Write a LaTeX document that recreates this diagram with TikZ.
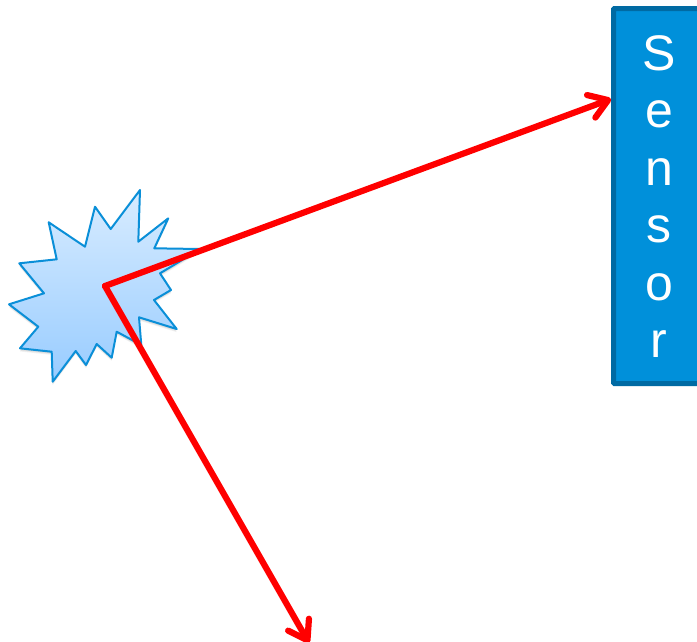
\documentclass[tikz,border=0pt]{standalone}
\usepackage{fontspec}
\setmainfont{Liberation Sans}
\usetikzlibrary{arrows.meta,shadings}
\definecolor{sensorfill}{HTML}{0090DA}
\definecolor{sensorline}{HTML}{006AA3}
\definecolor{burstline}{HTML}{0A8FD8}
\definecolor{bursttop}{HTML}{D8ECFF}
\definecolor{burstbot}{HTML}{98CCFF}
\tikzset{
  ray/.style={draw=red,line width=6.2pt,line cap=round,-{Straight Barb[length=18pt,width=24pt,line width=6.2pt,round]}},
  sensorbox/.style={draw=sensorline,fill=sensorfill,line width=5pt,rounded corners=1pt,minimum width=110pt,minimum height=375pt,anchor=north west,inner sep=0pt},
  sensortext/.style={text=white,align=center,font=\fontsize{50}{57.4}\selectfont,inner sep=0pt},
  burstedge/.style={draw=burstline,line width=2pt,line join=round,top color=bursttop,bottom color=burstbot},
}
\newcommand{\burstpath}{(140,190) -- (138.3,241.7) -- (168.3,218.3) -- (154.3,248.3) -- (200,249) -- (176.7,263.3) -- (160,273.3) -- (171,290) -- (154,300) -- (176.7,329) -- (139,317.3) -- (141.3,345) -- (116.7,331.7) -- (111.7,357.7) -- (96.7,344) -- (86,365) -- (75.7,351) -- (52.7,381.7) -- (51.7,351.7) -- (20,348.3) -- (38.3,326.7) -- (9,304.3) -- (44,293.3) -- (19.3,263.3) -- (56.7,259.3) -- (48.7,222.3) -- (85,246.7) -- (95,206.7) -- (110.7,229) -- cycle}
\begin{document}
\begin{tikzpicture}[x=1pt,y=-1pt]
\useasboundingbox (0,0) rectangle (697,641);
\clip (0,0) rectangle (697,641);
\foreach \k/\o in {1/0.06,2/0.06,3/0.06,4/0.05}{
  \fill[black,opacity=\o,yshift=-\k*0.8pt] \burstpath;
}
\path[burstedge] \burstpath;
\coordinate (source) at (105,286);
\coordinate (down) at (309,643);
\node[sensorbox] (sensor) at (611,6) {};
\node[sensortext] (sensorlabel) at (659,196.5) {S\\e\\n\\s\\o\\r};
\coordinate (hit) at (611,99);
\draw[ray] (source) -- (hit);
\draw[ray] (source) -- (down);
\end{tikzpicture}
\end{document}
